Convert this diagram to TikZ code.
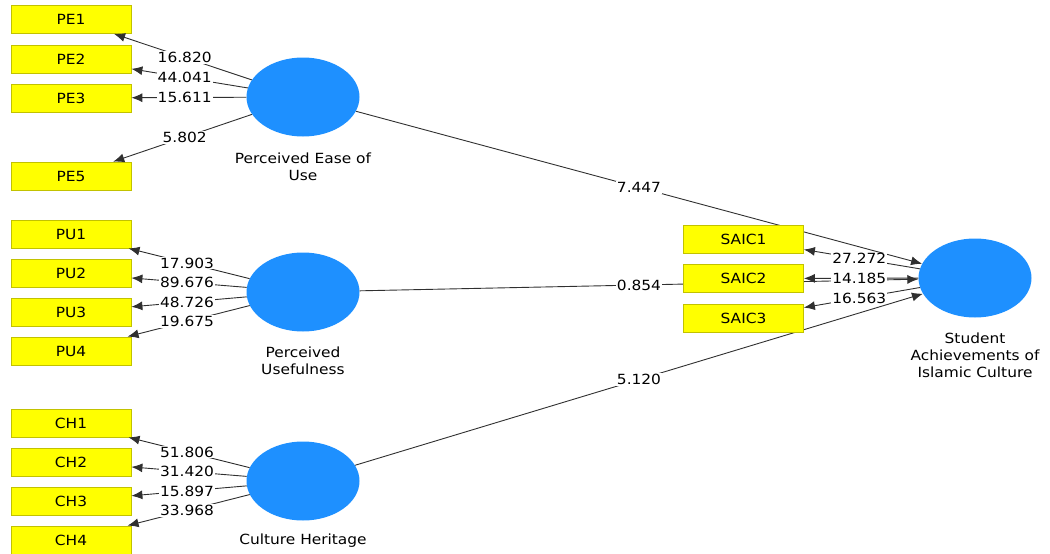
\documentclass[tikz,border=0pt]{standalone}
\usepackage{fontspec}
\setmainfont{DejaVu Sans}[FakeStretch=1.1]
\usetikzlibrary{shapes.geometric,arrows.meta,calc}
\definecolor{lvblue}{HTML}{1E90FF}
\definecolor{mvfill}{HTML}{FFFF00}
\definecolor{mvedge}{HTML}{C2C200}
\definecolor{linec}{HTML}{303030}
\tikzset{
  lv/.style={ellipse, fill=lvblue, minimum width=113pt, minimum height=79pt, inner sep=0pt},
  mv/.style={rectangle, fill=mvfill, draw=mvedge, line width=0.8pt, minimum width=120pt, minimum height=28pt, inner sep=0pt, font=\fontsize{14}{17}\selectfont},
  lvlab/.style={align=center, font=\fontsize{14}{17}\selectfont, inner sep=0pt},
  val/.style={fill=white, inner sep=1pt, font=\fontsize{14}{17}\selectfont},
  conn/.style={draw=linec, line width=0.9pt, -{Latex[length=11pt,width=9pt]}},
}
\begin{document}
\begin{tikzpicture}[x=1pt,y=-1pt]
\useasboundingbox (0,0) rectangle (1050,554);
\clip (0,0) rectangle (1050,554);
% latent variables
\node[lv] (PE) at (303,97) {};
\node[lv] (PU) at (303,292) {};
\node[lv] (CH) at (303,481) {};
\node[lv] (SA) at (975,278) {};
\node[lvlab] (PEl) at (303,166.5) {Perceived Ease of\\Use};
\node[lvlab] (PUl) at (303,360.5) {Perceived\\Usefulness};
\node[lvlab] (CHl) at (303,541) {Culture Heritage};
\node[lvlab] (SAl) at (975,355.5) {Student\\Achievements of\\Islamic Culture};
% structural paths (behind boxes)
\draw[conn] (PE) -- (SA);
\draw[conn] (PU) -- (SA);
\draw[conn] (CH) -- (SA);
% indicators
\node[mv] (PE1) at (71,19.5) {PE1};
\node[mv] (PE2) at (71,59) {PE2};
\node[mv] (PE3) at (71,98) {PE3};
\node[mv] (PE5) at (71,176) {PE5};
\node[mv] (PU1) at (71,234) {PU1};
\node[mv] (PU2) at (71,273) {PU2};
\node[mv] (PU3) at (71,312) {PU3};
\node[mv] (PU4) at (71,351) {PU4};
\node[mv] (CH1) at (71,423) {CH1};
\node[mv] (CH2) at (71,462) {CH2};
\node[mv] (CH3) at (71,501) {CH3};
\node[mv] (CH4) at (71,540) {CH4};
\node[mv] (S1) at (743.5,239.5) {SAIC1};
\node[mv] (S2) at (743.5,278.5) {SAIC2};
\node[mv] (S3) at (743.5,318) {SAIC3};
% loadings
\foreach \a/\b in {PE/PE1,PE/PE2,PE/PE3,PE/PE5,PU/PU1,PU/PU2,PU/PU3,PU/PU4,CH/CH1,CH/CH2,CH/CH3,CH/CH4,SA/S1,SA/S2,SA/S3}
  \draw[conn] (\a) -- (\b);
% values
\node[val] (v1) at ($(PE)!0.51!(PE1)$) {16.820};
\node[val] (v2) at ($(PE)!0.51!(PE2)$) {44.041};
\node[val] (v3) at ($(PE)!0.51!(PE3)$) {15.611};
\node[val] (v5) at ($(PE)!0.51!(PE5)$) {5.802};
\node[val] (u1) at ($(PU)!0.5!(PU1)$) {17.903};
\node[val] (u2) at ($(PU)!0.5!(PU2)$) {89.676};
\node[val] (u3) at ($(PU)!0.5!(PU3)$) {48.726};
\node[val] (u4) at ($(PU)!0.5!(PU4)$) {19.675};
\node[val] (c1) at ($(CH)!0.5!(CH1)$) {51.806};
\node[val] (c2) at ($(CH)!0.5!(CH2)$) {31.420};
\node[val] (c3) at ($(CH)!0.5!(CH3)$) {15.897};
\node[val] (c4) at ($(CH)!0.5!(CH4)$) {33.968};
\node[val] (s1) at ($(SA)!0.5!(S1)$) {27.272};
\node[val] (s2) at ($(SA)!0.5!(S2)$) {14.185};
\node[val] (s3) at ($(SA)!0.5!(S3)$) {16.563};
\node[val] (p1) at ($(PE)!0.5!(SA)$) {7.447};
\node[val] (p2) at ($(PU)!0.5!(SA)$) {0.854};
\node[val] (p3) at ($(CH)!0.5!(SA)$) {5.120};
\end{tikzpicture}
\end{document}
